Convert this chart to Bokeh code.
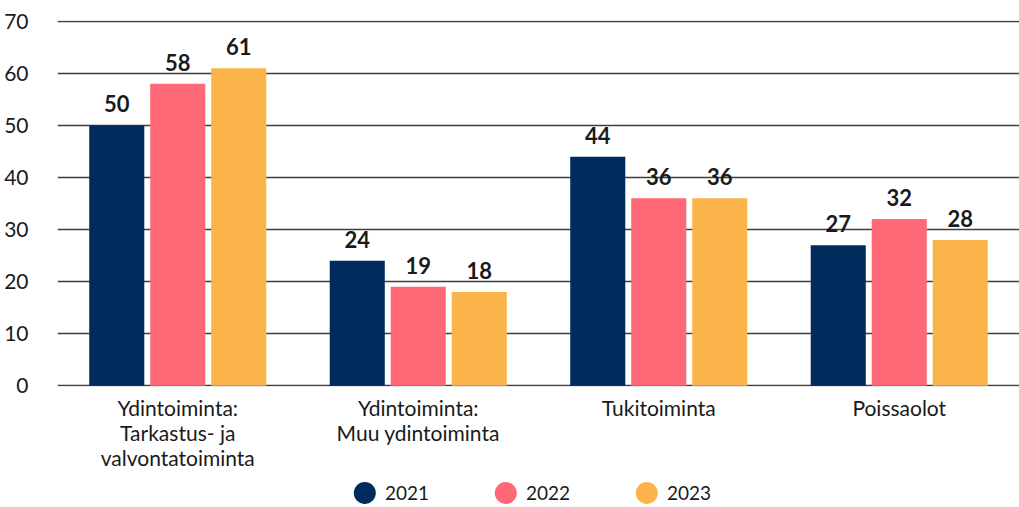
from bokeh.plotting import figure
from bokeh.models import ColumnDataSource, FactorRange, Range1d, SingleIntervalTicker, Spacer
from bokeh.transform import dodge
from bokeh.layouts import column, row
from bokeh.core.properties import value
from bokeh.embed import file_html
from bokeh.resources import INLINE

categories = ["Ydintoiminta:\nTarkastus- ja\nvalvontatoiminta",
              "Ydintoiminta:\nMuu ydintoiminta",
              "Tukitoiminta",
              "Poissaolot"]
years = ["2021", "2022", "2023"]
v2021 = [50, 24, 44, 27]
v2022 = [58, 19, 36, 32]
v2023 = [61, 18, 36, 28]
series = [v2021, v2022, v2023]
colors = ["#002B5C", "#FF6877", "#FBB44A"]
y_max = 70
y_step = 10

FONT = "Lato"
TXT = "#1a1a1a"

p = figure(x_range=FactorRange(factors=categories), y_range=Range1d(-0.15, y_max + 0.15),
           frame_width=962, frame_height=366,
           min_border_left=57, min_border_right=0, min_border_top=20, min_border_bottom=0,
           toolbar_location=None, output_backend="svg")

offsets = [-0.2536, 0.0, 0.2536]
bw = 0.229
for yr, vals, col, off in zip(years, series, colors, offsets):
    src = ColumnDataSource(dict(cat=categories, val=vals, lab=[str(v) for v in vals]))
    p.vbar(x=dodge("cat", off, range=p.x_range), top="val", bottom=0, width=bw,
           source=src, fill_color=col, line_color=None)
    p.text(x=dodge("cat", off, range=p.x_range), y="val", text="lab", source=src,
           text_align="center", text_baseline="bottom", y_offset=-13,
           text_font=value(FONT), text_font_style="bold", text_font_size="22px",
           text_color=TXT)

p.outline_line_color = None
p.xgrid.grid_line_color = None
p.ygrid.grid_line_color = "#3f3f3f"
p.ygrid.grid_line_width = 1.3
p.yaxis.ticker = SingleIntervalTicker(interval=y_step)
for ax in p.axis:
    ax.axis_line_color = None
    ax.major_tick_line_color = None
    ax.minor_tick_line_color = None
    ax.major_tick_out = 0
    ax.major_tick_in = 0
    ax.major_label_text_font = FONT
    ax.major_label_text_font_size = "21px"
    ax.major_label_text_color = TXT
p.yaxis.major_label_standoff = 25
p.xaxis.major_label_standoff = 8
p.xaxis.major_label_text_line_height = 1.0

leg = figure(width=423, height=32, x_range=FactorRange(factors=years), y_range=Range1d(-0.56, 1),
             toolbar_location=None, output_backend="svg", min_border=0)
leg.axis.visible = False
leg.grid.visible = False
leg.outline_line_color = None
lsrc = ColumnDataSource(dict(year=years, y=[0] * len(years), col=colors))
leg.scatter(x=dodge("year", -0.2, range=leg.x_range), y="y", source=lsrc, size=22,
            fill_color="col", line_color=None)
leg.text(x="year", y="y", text="year", source=lsrc, x_offset=-8,
         text_align="left", text_baseline="middle", text_font=value(FONT),
         text_font_size="19px", text_color=TXT)

layout = column(p, row(Spacer(width=322), leg))
open("out.html", "w").write(file_html(layout, INLINE))
